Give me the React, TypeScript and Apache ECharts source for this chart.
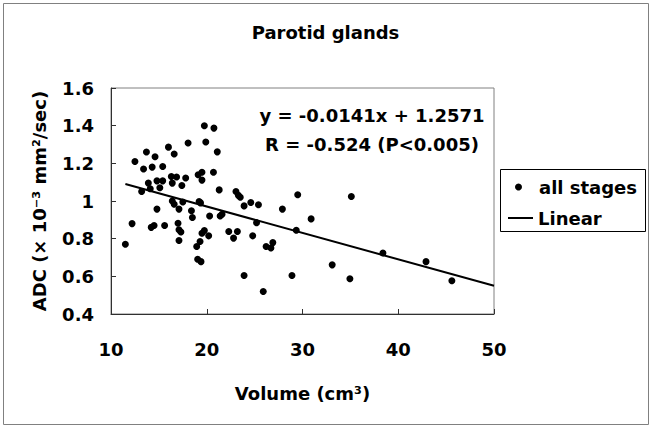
import React, { useEffect, useRef } from "react";
import * as echarts from "echarts";

const volume = [
  11.5, 12.2, 12.5, 13.2, 13.4, 13.7, 13.9, 14.1, 14.3, 14.2, 14.5, 14.6, 14.8, 14.8, 15.1, 15.4, 15.4,
  15.6, 16.0, 16.3, 16.4, 16.4, 16.6, 16.6, 16.85, 17.1, 17.0, 17.1, 17.1, 17.3, 17.4, 17.5, 17.8, 18.05,
  18.4, 18.5, 18.95, 19.05, 19.1, 19.2, 19.4, 19.3, 19.5, 19.5, 19.35, 19.5, 19.75, 19.9, 19.75, 20.3,
  20.2, 20.7, 20.75, 21.1, 21.3, 21.4, 21.6, 22.3, 22.8, 23.05, 23.3, 23.2, 23.5, 23.9, 23.9, 24.6, 24.8,
  25.2, 25.4, 25.9, 26.2, 26.7, 26.9, 27.9, 28.9, 29.35, 29.5, 30.9, 33.1, 34.95, 35.1, 38.4, 42.9, 45.6,
];
const adc = [
  0.77, 0.88, 1.21, 1.05, 1.17, 1.26, 1.095, 1.065, 1.18, 0.86, 0.87, 1.235, 0.957, 1.107, 1.07, 1.183,
  1.107, 0.87, 1.286, 1.13, 1.095, 1.0, 0.983, 1.25, 1.127, 0.847, 0.882, 0.957, 0.79, 0.835, 1.082,
  0.995, 1.122, 1.308, 0.948, 0.912, 0.758, 0.691, 1.139, 0.997, 0.678, 0.785, 1.153, 1.111, 0.99, 0.829,
  1.4, 1.313, 0.843, 0.92, 0.815, 1.153, 1.387, 1.261, 1.059, 0.92, 0.93, 0.838, 0.803, 1.05, 1.03, 0.838,
  1.02, 0.974, 0.604, 0.992, 0.815, 0.885, 0.98, 0.519, 0.758, 0.75, 0.779, 0.957, 0.604, 0.845, 1.033,
  0.905, 0.661, 0.587, 1.024, 0.724, 0.678, 0.577,
];
// regression line endpoints
const fitX = [11.5, 50];
const fitY = [1.09, 0.55];

const titleText = "Parotid glands";
const xName = "Volume (cm³)";
const yName = "ADC (× 10⁻³ mm²/sec)";
const equationLines = ["y = -0.0141x + 1.2571", "R = -0.524 (P<0.005)"];
const seriesNames = ["all stages", "Linear"];

const FONT = "DejaVu Sans";

export default function App() {
  const ref = useRef<HTMLDivElement>(null);
  useEffect(() => {
    if (!ref.current) return;
    const chart = echarts.init(ref.current, undefined, { renderer: "svg" });
    const txt = { fontFamily: FONT, fontWeight: "bold" as const, fontSize: 18, color: "#000" };
    chart.setOption({
      animation: false,
      backgroundColor: "#fff",
      title: {
        text: titleText,
        left: "center",
        top: 23,
        padding: 0,
        textStyle: { ...txt },
      },
      grid: {
        left: 111,
        right: 157,
        top: 88,
        bottom: 113,
        show: true,
        borderColor: "#808080",
        borderWidth: 1,
        backgroundColor: "transparent",
      },
      xAxis: {
        type: "value",
        min: 10,
        max: 50,
        interval: 10,
        name: xName,
        nameLocation: "middle",
        nameGap: 70,
        nameTextStyle: { ...txt },
        axisLine: { show: true, lineStyle: { color: "#303030", width: 1 } },
        axisTick: { show: true, inside: true, length: 5, lineStyle: { color: "#303030" } },
        axisLabel: { ...txt, margin: 26 },
        splitLine: { show: false },
      },
      yAxis: {
        type: "value",
        min: 0.4,
        max: 1.6,
        interval: 0.2,
        name: yName,
        nameLocation: "middle",
        nameGap: 63,
        nameRotate: 90,
        nameTextStyle: { ...txt },
        axisLine: { show: true, lineStyle: { color: "#303030", width: 1 } },
        axisTick: { show: true, inside: true, length: 5, lineStyle: { color: "#303030" } },
        axisLabel: { ...txt, margin: 17 },
        splitLine: { show: false },
      },
      legend: [
        {
          data: [{ name: seriesNames[0], icon: "circle" }],
          left: 515,
          top: 178,
          padding: 0,
          itemWidth: 7,
          itemHeight: 7,
          textStyle: { ...txt, padding: [0, 0, 0, 12] },
        },
        {
          data: [{ name: seriesNames[1], icon: "rect" }],
          left: 508,
          top: 209,
          padding: 0,
          itemWidth: 25,
          itemHeight: 2,
          textStyle: { ...txt },
        },
      ],
      graphic: [
        {
          type: "rect",
          shape: { x: 3.5, y: 3.5, width: 645, height: 421 },
          style: { fill: "none", stroke: "#808080", lineWidth: 1 },
          silent: true,
        },
        {
          type: "rect",
          shape: { x: 500.5, y: 169.5, width: 145, height: 62 },
          style: { fill: "none", stroke: "#000", lineWidth: 1 },
          silent: true,
        },
        {
          type: "text",
          x: 372,
          y: 115,
          style: {
            text: equationLines[0],
            fontFamily: FONT,
            fontWeight: "bold",
            fontSize: 18,
            fill: "#000",
            align: "center",
            verticalAlign: "middle",
          },
        },
        {
          type: "text",
          x: 372,
          y: 144,
          style: {
            text: equationLines[1],
            fontFamily: FONT,
            fontWeight: "bold",
            fontSize: 18,
            fill: "#000",
            align: "center",
            verticalAlign: "middle",
          },
        },
      ],
      series: [
        {
          name: seriesNames[0],
          type: "scatter",
          symbol: "circle",
          symbolSize: 7,
          itemStyle: { color: "#000", opacity: 1 },
          data: volume.map((v, i) => [v, adc[i]]),
        },
        {
          name: seriesNames[1],
          type: "line",
          symbol: "none",
          color: "#000",
          lineStyle: { color: "#000", width: 2 },
          itemStyle: { color: "#000" },
          data: fitX.map((v, i) => [v, fitY[i]]),
        },
      ],
    });
    return () => chart.dispose();
  }, []);
  return (
    <div
      ref={ref}
      style={{ position: "fixed", left: 0, top: 0, width: 651, height: 427 }}
    />
  );
}
